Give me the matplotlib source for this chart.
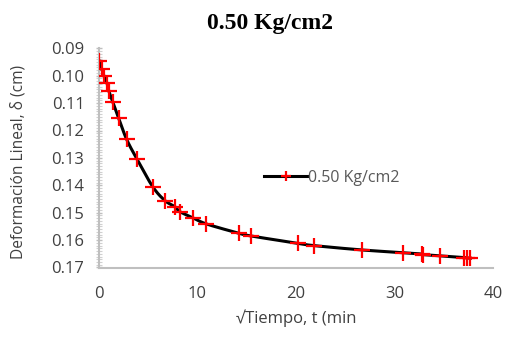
import numpy as np
import matplotlib
matplotlib.use("Agg")
import matplotlib.pyplot as plt
from matplotlib.ticker import MultipleLocator

# Data
sqrt_t = [0, 0.3, 0.5, 0.8, 1.0, 1.4, 2.0, 2.8, 3.85, 5.45, 6.7, 7.7, 8.2, 9.5,
          10.9, 14.2, 15.45, 20.2, 21.8, 26.7, 30.9, 32.8, 32.9, 34.6, 37.1, 37.4, 37.7]
deform = [0.0945, 0.0977, 0.1001, 0.1026, 0.1056, 0.1095, 0.1155, 0.1232, 0.1304,
          0.1405, 0.1456, 0.1478, 0.1496, 0.1518, 0.1541, 0.1575, 0.1585, 0.1612,
          0.1620, 0.1636, 0.1646, 0.1651, 0.1653, 0.1657, 0.1664, 0.1665, 0.1666]
series_label = "0.50 Kg/cm2"
title = "0.50 Kg/cm2"
xlabel = "√Tiempo, t (min"
ylabel = "Deformación Lineal, δ (cm)"


def catmull_rom(x, y, n=20):
    x = np.asarray(x, float)
    y = np.asarray(y, float)
    px = np.concatenate([[x[0]], x, [x[-1]]])
    py = np.concatenate([[y[0]], y, [y[-1]]])
    xs, ys = [], []
    for i in range(1, len(px) - 2):
        p0, p1, p2, p3 = (np.array([px[j], py[j]]) for j in (i - 1, i, i + 1, i + 2))
        c1 = p1 + (p2 - p0) / 6.0
        c2 = p2 - (p3 - p1) / 6.0
        s = np.linspace(0, 1, n)[:, None]
        b = ((1 - s) ** 3) * p1 + 3 * ((1 - s) ** 2) * s * c1 + 3 * (1 - s) * s ** 2 * c2 + s ** 3 * p2
        xs.append(b[:, 0])
        ys.append(b[:, 1])
    return np.concatenate(xs), np.concatenate(ys)


W, H = 509, 338
fig = plt.figure(figsize=(W / 100, H / 100), dpi=100)
left, right, top, bottom = 99, 493, 48.3, 267.5
ax = fig.add_axes([left / W, 1 - bottom / H, (right - left) / W, (bottom - top) / H])

sx, sy = catmull_rom(sqrt_t, deform)
ax.plot(sx, sy, color="black", lw=2.2, zorder=2)
ax.plot(sqrt_t, deform, ls="none", marker="+", ms=11, mew=1.6, color="#ff0000", zorder=3)
# legend proxy
ax.plot([], [], color="black", lw=2.2, marker="+", ms=7, mew=1.6, mec="#ff0000",
        label=series_label)

ax.set_xlim(0, 40)
ax.set_ylim(0.17, 0.09)
ax.xaxis.set_major_locator(MultipleLocator(10))
ax.yaxis.set_major_locator(MultipleLocator(0.01))
ax.yaxis.set_minor_locator(MultipleLocator(0.001))
ax.yaxis.set_major_formatter(matplotlib.ticker.FormatStrFormatter("%.2f"))

for s in ("top", "right"):
    ax.spines[s].set_visible(False)
for s in ("left", "bottom"):
    ax.spines[s].set_color("#bfbfbf")
    ax.spines[s].set_linewidth(1.5)

ax.tick_params(axis="x", length=0, pad=13, labelsize=12, labelcolor="#404040")
ax.tick_params(axis="y", which="major", length=5, direction="inout", color="#bfbfbf",
               width=1, labelsize=12, labelcolor="#404040", pad=8)
ax.tick_params(axis="y", which="minor", length=5, direction="inout", color="#d0d0d0", width=0.8)

fam = ["Open Sans", "DejaVu Sans"]
for lab in ax.get_xticklabels() + ax.get_yticklabels():
    lab.set_family(fam)

fig.text(270 / W, 1 - 24 / H, title, family="Liberation Serif", fontweight="bold",
         fontsize=17, ha="center", va="center")
ax.set_xlabel(xlabel, family=fam, fontsize=12, color="#404040")
ax.set_ylabel(ylabel, family=fam, fontsize=11.2, color="#404040")
ax.xaxis.set_label_coords(0.5, (bottom - 318) / (bottom - top), transform=ax.transAxes)
ax.yaxis.set_label_coords((18 - left) / (right - left), 0.48, transform=ax.transAxes)
ax.xaxis.label.set_va("center")
ax.yaxis.label.set_va("center")

leg = ax.legend(loc="center left", bbox_to_anchor=((258 - left) / (right - left), (bottom - 178) / (bottom - top)),
                frameon=False, handlelength=2.7, handletextpad=0.05, borderaxespad=0,
                prop={"family": fam, "size": 11.5})
for t in leg.get_texts():
    t.set_color("#595959")

fig.savefig("out.png", dpi=100)
